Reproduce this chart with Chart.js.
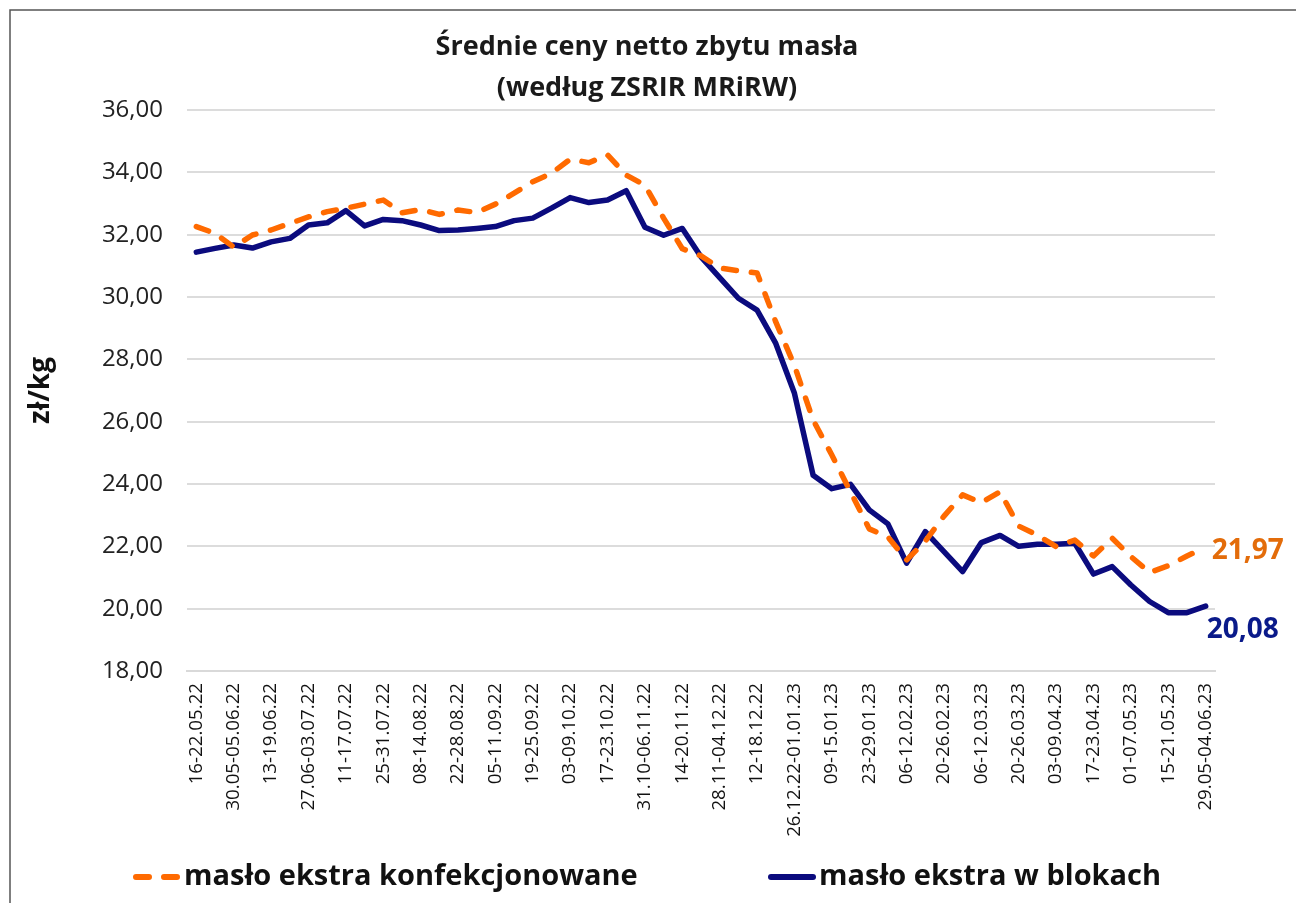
<!DOCTYPE html>
<html>
<head>
<meta charset="utf-8">
<script src="https://cdn.jsdelivr.net/npm/chart.js"></script>
<style>
  html, body { margin: 0; padding: 0; background: #fff; }
  #wrap { width: 1296px; height: 903px; }
</style>
</head>
<body>
<div id="wrap"><canvas id="butter" width="1296" height="903"></canvas></div>
<script>
// weekly periods
var weeks = [
  "16-22.05.22", "23-29.05.22", "30.05-05.06.22", "06-12.06.22", "13-19.06.22", "20-26.06.22",
  "27.06-03.07.22", "04-10.07.22", "11-17.07.22", "18-24.07.22", "25-31.07.22", "01-07.08.22",
  "08-14.08.22", "15-21.08.22", "22-28.08.22", "29.08-04.09.22", "05-11.09.22", "12-18.09.22",
  "19-25.09.22", "26.09-02.10.22", "03-09.10.22", "10-16.10.22", "17-23.10.22", "24-30.10.22",
  "31.10-06.11.22", "07-13.11.22", "14-20.11.22", "21-27.11.22", "28.11-04.12.22", "05-11.12.22",
  "12-18.12.22", "19-25.12.22", "26.12.22-01.01.23", "02-08.01.23", "09-15.01.23", "16-22.01.23",
  "23-29.01.23", "30.01-05.02.23", "06-12.02.23", "13-19.02.23", "20-26.02.23", "27.02-05.03.23",
  "06-12.03.23", "13-19.03.23", "20-26.03.23", "27.03-02.04.23", "03-09.04.23", "10-16.04.23",
  "17-23.04.23", "24-30.04.23", "01-07.05.23", "08-14.05.23", "15-21.05.23", "22-28.05.23",
  "29.05-04.06.23"
];

// zł/kg
var konfekcjonowane = [
  32.26, 32.04, 31.60, 31.99, 32.15, 32.36, 32.57, 32.74, 32.85, 32.98, 33.11, 32.70,
  32.81, 32.65, 32.79, 32.71, 32.98, 33.33, 33.70, 33.97, 34.42, 34.31, 34.56, 33.91,
  33.59, 32.53, 31.55, 31.32, 30.93, 30.84, 30.77, 29.20, 27.80, 26.05, 24.93, 23.75,
  22.56, 22.30, 21.56, 22.17, 22.97, 23.65, 23.40, 23.75, 22.65, 22.36, 21.99, 22.20,
  21.69, 22.26, 21.67, 21.16, 21.38, 21.69, 21.97
];
var bloki = [
  31.44, 31.56, 31.67, 31.57, 31.77, 31.88, 32.31, 32.38, 32.77, 32.28, 32.49, 32.45,
  32.31, 32.13, 32.15, 32.20, 32.26, 32.45, 32.53, 32.85, 33.19, 33.03, 33.11, 33.41,
  32.24, 31.98, 32.20, 31.29, 30.62, 29.96, 29.58, 28.51, 26.91, 24.28, 23.85, 23.99,
  23.17, 22.72, 21.46, 22.47, 21.83, 21.19, 22.12, 22.35, 22.00, 22.07, 22.07, 22.10,
  21.11, 21.35, 20.76, 20.23, 19.87, 19.87, 20.08
];

var seriesNames = ["masło ekstra konfekcjonowane", "masło ekstra w blokach"];
var titleLines = ["Średnie ceny netto zbytu masła", "(według ZSRIR MRiRW)"];
var yMin = 18, yMax = 36, yStep = 2;

var FONT = "'Open Sans', Lato, sans-serif";

function plPL(v) { return v.toFixed(2).replace(".", ","); }

// frame, white background, title
var framePlugin = {
  id: 'frame',
  beforeDraw: function(chart) {
    var c = chart.ctx;
    c.save();
    c.fillStyle = '#fff';
    c.fillRect(0, 0, chart.width, chart.height);
    c.strokeStyle = '#555';
    c.lineWidth = 1.5;
    c.beginPath();
    c.moveTo(10, chart.height);
    c.lineTo(10, 10);
    c.lineTo(chart.width, 10);
    c.stroke();

    c.fillStyle = '#1a1a1a';
    c.font = "bold 27px " + FONT;
    c.textAlign = 'center';
    c.textBaseline = 'middle';
    c.fillText(titleLines[0], 647, 47);
    c.fillText(titleLines[1], 647, 88);
    c.restore();
  }
};

// value labels at the last point + legend at the bottom
var extras = {
  id: 'extras',
  afterDatasetsDraw: function(chart) {
    var c = chart.ctx;
    var colors = ['#E36C0A', '#0A1A8A'];
    var off = [[6, 4], [1, 24]];
    chart.data.datasets.forEach(function(ds, i) {
      var meta = chart.getDatasetMeta(i);
      var pt = meta.data[meta.data.length - 1];
      c.save();
      c.font = "bold 28px " + FONT;
      c.fillStyle = colors[i];
      c.textBaseline = 'middle';
      c.textAlign = 'left';
      c.fillText(plPL(ds.data[ds.data.length - 1]), pt.x + off[i][0], pt.y + off[i][1]);
      c.restore();
    });
  },
  afterDraw: function(chart) {
    var c = chart.ctx;
    var startX = [133, 768];
    var y = 877;
    chart.data.datasets.forEach(function(ds, i) {
      c.save();
      c.strokeStyle = ds.borderColor;
      c.lineWidth = 6;
      c.lineCap = 'round';
      c.setLineDash(ds.borderDash || []);
      c.beginPath();
      c.moveTo(startX[i] + 3, y);
      c.lineTo(startX[i] + 45, y);
      c.stroke();
      c.setLineDash([]);
      c.fillStyle = '#111';
      c.font = "bold 29px " + FONT;
      c.textAlign = 'left';
      c.textBaseline = 'middle';
      c.fillText(ds.label, startX[i] + 51, y);
      c.restore();
    });
  }
};

new Chart(document.getElementById("butter"), {
  type: 'line',
  data: {
    labels: weeks,
    datasets: [{
      label: seriesNames[0],
      data: konfekcjonowane,
      borderColor: '#FF6A00',
      backgroundColor: '#FF6A00',
      borderWidth: 5.5,
      borderDash: [13, 15],
      borderCapStyle: 'round',
      borderJoinStyle: 'round',
      pointRadius: 0,
      tension: 0,
      fill: false
    }, {
      label: seriesNames[1],
      data: bloki,
      borderColor: '#0B0B7E',
      backgroundColor: '#0B0B7E',
      borderWidth: 5.5,
      borderCapStyle: 'round',
      borderJoinStyle: 'round',
      pointRadius: 0,
      tension: 0,
      fill: false
    }]
  },
  options: {
    responsive: false,
    animation: false,
    layout: { padding: { left: 10, right: 81, top: 110, bottom: 65 } },
    plugins: {
      legend: { display: false },
      title: { display: false },
      tooltip: { enabled: false }
    },
    scales: {
      x: {
        offset: true,
        afterFit: function(s) { s.height = 167; },
        grid: { display: false, drawTicks: false },
        border: { display: true, color: '#d9d9d9', width: 2 },
        ticks: {
          autoSkip: false,
          maxRotation: 90,
          minRotation: 90,
          padding: 12,
          color: '#111',
          font: { family: FONT, size: 18.7 },
          callback: function(val, idx) { return idx % 2 === 0 ? this.getLabelForValue(val) : ''; }
        }
      },
      y: {
        min: yMin,
        max: yMax,
        afterFit: function(s) { s.width = 177; },
        grid: { color: '#dcdcdc', lineWidth: 2, drawTicks: false },
        border: { display: false },
        ticks: {
          stepSize: yStep,
          padding: 24,
          color: '#222',
          font: { family: FONT, size: 24 },
          callback: function(v) { return plPL(v); }
        },
        title: {
          display: true,
          text: 'zł/kg',
          color: '#111',
          font: { family: FONT, size: 28, weight: 'bold' },
          padding: { top: 14, bottom: 10 }
        }
      }
    }
  },
  plugins: [framePlugin, extras]
});
</script>
</body>
</html>
